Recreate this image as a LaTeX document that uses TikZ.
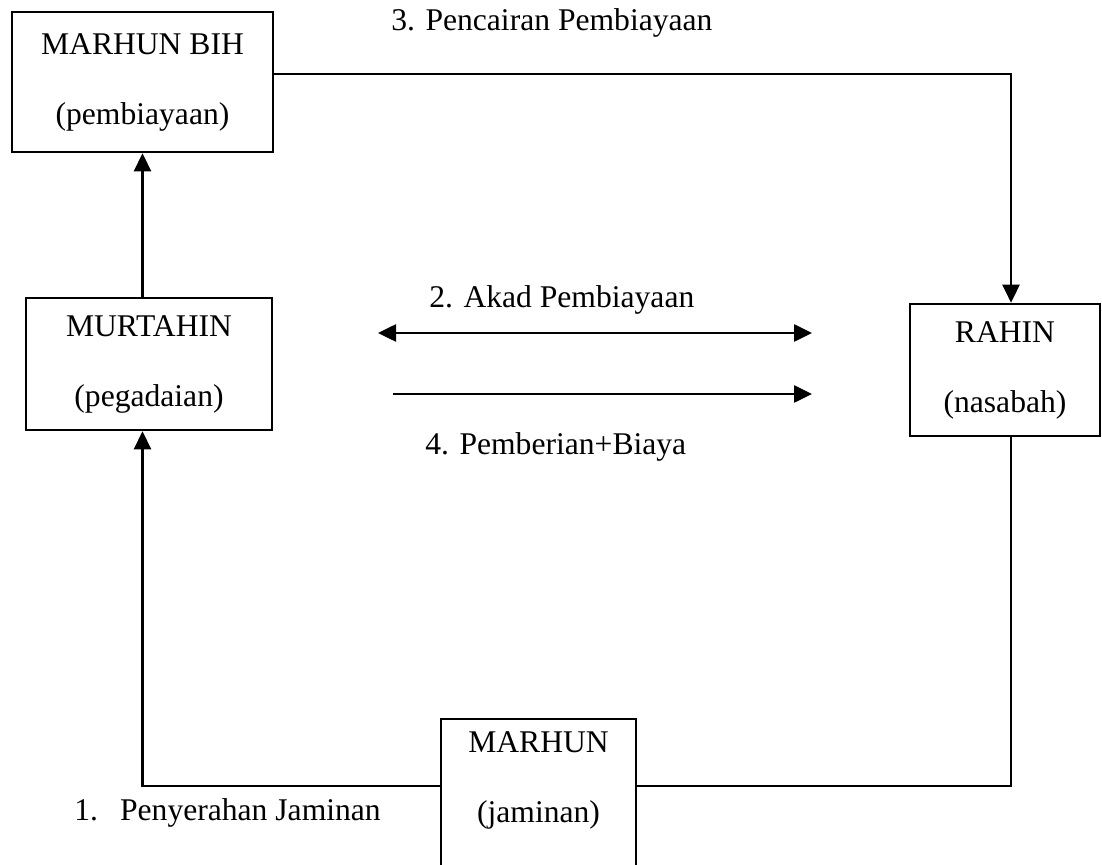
\documentclass[tikz,border=0pt]{standalone}
\usepackage{fontspec}
\setmainfont{Liberation Serif}
\usetikzlibrary{arrows.meta}

\begin{document}
\begin{tikzpicture}[x=0.5pt,y=-0.5pt,line width=1.3pt,
  box/.style n args={2}{draw,rectangle,minimum width=#1,minimum height=#2,inner sep=0pt,align=center,font=\fontsize{15.8}{35}\selectfont},
  lbl/.style={anchor=west,inner sep=0pt,font=\fontsize{15.8}{19}\selectfont},
  arr/.style={-{Triangle[length=9pt,width=8.5pt]}},
  dbl/.style={{Triangle[length=9pt,width=8.5pt]}-{Triangle[length=9pt,width=8.5pt]}}]
\useasboundingbox (0,0) rectangle (1102,865);
\clip (0,0) rectangle (1102,865);
\node[box={130.5pt}{70pt}] (bih) at (142.5,82) {MARHUN BIH\\(pembiayaan)};
\node[box={123pt}{66pt}] (murtahin) at (149,364) {MURTAHIN\\(pegadaian)};
\node[box={95pt}{66pt}] (rahin) at (1005,370) {RAHIN\\(nasabah)};
\node[box={97.5pt}{93pt}] (marhun) at (538.5,812) {MARHUN\\(jaminan)\\\mbox{}};
\coordinate (top) at (1011,74);
\coordinate (low) at (1011,786);
\coordinate (akadL) at (378,333);
\coordinate (akadR) at (812,333);
\coordinate (beriL) at (393,394);
\coordinate (beriR) at (812,394);
\node[lbl] (pencairan) at (390,23) {3. Pencairan Pembiayaan};
\node[lbl] (akad) at (428,300) {2. Akad Pembiayaan};
\node[lbl] (pemberian) at (424,447) {4. Pemberian+Biaya};
\node[lbl] (penyerahan) at (73,813) {1.\hspace{0.7em}Penyerahan Jaminan};
\draw[arr] (bih.south |- murtahin.north) -- (bih.south);
\draw[arr] (bih.east |- top) -- (top) -- (top |- rahin.north);
\draw[dbl] (akadL) -- (akadR);
\draw[arr] (beriL) -- (beriR);
\draw (top |- rahin.south) -- (low) -- (marhun.east |- low);
\draw[arr] (marhun.west |- low) -- (bih.south |- low) -- (bih.south |- murtahin.south);
\end{tikzpicture}
\end{document}
